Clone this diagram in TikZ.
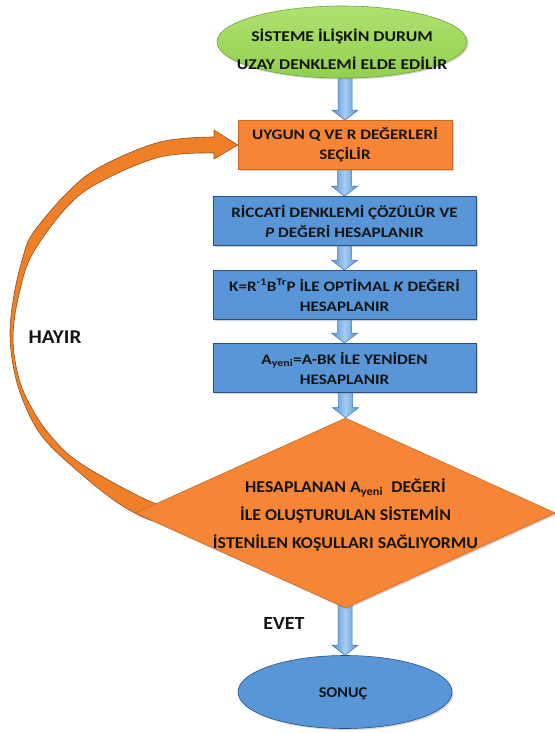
\documentclass[tikz,border=0pt]{standalone}
\usepackage{fontspec}
\setmainfont{Carlito}
\newfontfamily\fwide{Carlito}[FakeStretch=1.18]
\newfontfamily\fmid{Carlito}[FakeStretch=1.08]
\usetikzlibrary{shapes.geometric,calc,shadows,backgrounds}
\definecolor{boxblue}{RGB}{88,150,215}
\definecolor{boxblueedge}{RGB}{45,80,130}
\definecolor{boxorange}{RGB}{246,134,54}
\definecolor{boxorangeedge}{RGB}{205,105,35}
\definecolor{boxgreen}{RGB}{146,208,80}
\definecolor{boxgreenlight}{RGB}{175,225,110}
\definecolor{boxgreenedge}{RGB}{115,165,60}
\definecolor{arrowlight}{RGB}{165,205,245}
\definecolor{arrowdark}{RGB}{85,145,210}
\definecolor{arrowedge}{RGB}{70,115,170}
\definecolor{bandorange}{RGB}{240,128,40}
\definecolor{bandedge}{RGB}{150,80,30}
\definecolor{txt}{RGB}{20,20,20}
\tikzset{
  shad/.style={drop shadow={opacity=0.35,shadow xshift=1.5pt,shadow yshift=-1.5pt}},
  startend/.style={ellipse,draw=boxgreenedge,top color=boxgreenlight,bottom color=boxgreen,line width=0.6pt,shad},
  endnode/.style={ellipse,draw=boxblueedge,fill=boxblue,line width=0.6pt,shad},
  procbox/.style={rectangle,draw=boxblueedge,fill=boxblue,line width=0.6pt,shad,
    minimum width=263pt,minimum height=49pt,inner sep=0pt,align=center,
    font=\fwide\fontsize{14.5}{20}\selectfont\bfseries,text=txt},
  orbox/.style={procbox,draw=boxorangeedge,fill=boxorange},
  decision/.style={diamond,draw=boxorangeedge,fill=boxorange,line width=0.6pt,shad,
    minimum width=420pt,minimum height=190pt,inner sep=0pt},
  lbl/.style={align=center,font=\fwide\fontsize{15}{28}\selectfont\bfseries,text=txt,inner sep=0pt},
  dlbl/.style={align=center,font=\fmid\fontsize{16.5}{28}\selectfont\bfseries,text=txt,inner sep=0pt},
  elbl/.style={font=\fmid\fontsize{15}{18}\selectfont\bfseries,text=txt,inner sep=0pt},
  side/.style={font=\fmid\fontsize{18.5}{20}\selectfont\bfseries,text=txt,inner sep=0pt},
  barrow/.style={draw=arrowedge,line width=0.5pt,left color=arrowdark,right color=arrowdark,middle color=arrowlight},
  band/.style={fill=bandorange,draw=bandedge,line width=0.6pt}
}
\newcommand\blockarrow[2]{%
  \path[barrow] let \p1=(#1.south), \p2=(#2.north) in
   (\x2-7pt,\y1+4pt) -- (\x2+7pt,\y1+4pt) -- (\x2+7pt,\y2+10pt) -- (\x2+13pt,\y2+10pt)
   -- (\x2,\y2) -- (\x2-13pt,\y2+10pt) -- (\x2-7pt,\y2+10pt) -- cycle;}
\begin{document}
\begin{tikzpicture}[x=1pt,y=-1pt]
\useasboundingbox (0,0) rectangle (554,733);
% nodes
\node[startend,minimum width=250pt,minimum height=72pt] (s) at (342,42) {};
\node[lbl] (stxt) at (342,49) {SİSTEME İLİŞKİN DURUM\\UZAY DENKLEMİ ELDE EDİLİR};
\node[orbox,minimum width=214pt] (q) at (345,145) {UYGUN Q VE R DEĞERLERİ\\SEÇİLİR};
\node[procbox] (r) at (344.5,221) {RİCCATİ DENKLEMİ ÇÖZÜLÜR VE\\\textit{P} DEĞERİ HESAPLANIR};
\node[procbox] (k) at (344.5,295) {K=R\textsuperscript{-1}B\textsuperscript{Tr}P İLE OPTİMAL \textit{K} DEĞERİ\\HESAPLANIR};
\node[procbox] (a) at (344.5,368) {A\textsubscript{yeni}=A-BK İLE YENİDEN\\HESAPLANIR};
\node[decision] (d) at (345.5,513) {};
\node[dlbl] (dtxt) at (345.5,515) {HESAPLANAN A\textsubscript{yeni}\ \ DEĞERİ\\İLE OLUŞTURULAN SİSTEMİN\\İSTENİLEN KOŞULLARI SAĞLIYORMU};
\node[endnode,minimum width=214pt,minimum height=73pt] (e) at (345,692) {};
\node[elbl] (etxt) at (343,694) {SONUÇ};
\node[side] (evet) at (284,623) {EVET};
\node[side,font=\fmid\fontsize{19.5}{20}\selectfont\bfseries] (hayir) at (55,337) {HAYIR};
% connectors
\begin{pgfonlayer}{background}
\blockarrow{s}{q}
\blockarrow{q}{r}
\blockarrow{r}{k}
\blockarrow{k}{a}
\blockarrow{a}{d}
\blockarrow{d}{e}
\path[band] plot[smooth,tension=0.6] coordinates {(178,526) (150,520) (118,503) (80,473) (45,440) (27,410) (15,375) (10,335) (14,295) (23,257) (33,233) (67,193) (100,167) (160,142) (214,137)}
  -- (214,130) -- (q.west) -- (214,159) --
  plot[smooth,tension=0.6] coordinates {(214,153) (160,157) (100,182) (67,207) (33,253) (20,290) (13,335) (18,375) (30,405) (50,435) (80,463) (147,500) (178,508)}
  -- cycle;
\end{pgfonlayer}
\end{tikzpicture}
\end{document}
